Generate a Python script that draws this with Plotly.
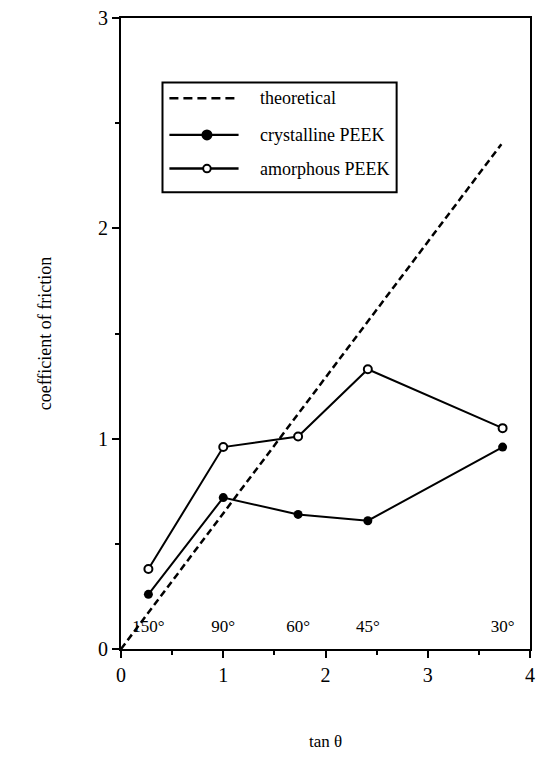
import plotly.graph_objects as go

tan_theta = [0.268, 1.0, 1.732, 2.414, 3.732]
angle_labels = ["150°", "90°", "60°", "45°", "30°"]
crystalline = [0.26, 0.72, 0.64, 0.61, 0.96]
amorphous = [0.38, 0.96, 1.01, 1.33, 1.05]
theory_x = [0.0, 3.72]
theory_y = [0.0, 2.40]
label_y = 0.10
legend_names = ["theoretical", "crystalline PEEK", "amorphous PEEK"]

font = "Liberation Serif"
W, H = 542, 773
L, R, T, B = 121, 7, 12, 124
pw, ph = W - L - R, H - T - B


def px(x):
    return (x - L) / pw


def py(y):
    return (H - B - y) / ph


fig = go.Figure()
fig.add_trace(go.Scatter(x=theory_x, y=theory_y, mode="lines", name=legend_names[0],
                         line=dict(color="black", width=2.5, dash="7px,4px"), showlegend=False))
fig.add_trace(go.Scatter(x=tan_theta, y=crystalline, mode="lines+markers", name=legend_names[1],
                         line=dict(color="black", width=2),
                         marker=dict(symbol="circle", size=9, color="black"), showlegend=False))
fig.add_trace(go.Scatter(x=tan_theta, y=amorphous, mode="lines+markers", name=legend_names[2],
                         line=dict(color="black", width=2),
                         marker=dict(symbol="circle", size=8, color="white",
                                     line=dict(color="black", width=2)), showlegend=False))
fig.add_trace(go.Scatter(x=tan_theta, y=[label_y] * len(tan_theta), mode="text",
                         text=angle_labels, textposition="middle center",
                         textfont=dict(family=font, size=17, color="black"),
                         showlegend=False, hoverinfo="skip"))

# manual legend (box, sample lines, markers, labels)
shapes = [dict(type="rect", xref="paper", yref="paper", x0=px(163), x1=px(400), y0=py(188), y1=py(77),
               line=dict(color="black", width=2), fillcolor="white", layer="above")]
rows = [93, 130, 164]
dashes = ["9px,5px", "solid", "solid"]
annotations = []
for i, (ry, name) in enumerate(zip(rows, legend_names)):
    shapes.append(dict(type="line", xref="paper", yref="paper", x0=px(170), x1=px(240), y0=py(ry), y1=py(ry),
                       line=dict(color="black", width=2.4, dash=dashes[i]), layer="above"))
    annotations.append(dict(xref="paper", yref="paper", x=px(260), y=py(ry), text=name, showarrow=False,
                            xanchor="left", yanchor="middle",
                            font=dict(family=font, size=18, color="black")))
for i, fill in [(1, "black"), (2, "white")]:
    r = 4.5 if i == 1 else 3.8
    shapes.append(dict(type="circle", xref="paper", yref="paper", xsizemode="pixel", ysizemode="pixel",
                       xanchor=px(208), yanchor=py(rows[i]), x0=-r, x1=r, y0=-r, y1=r,
                       fillcolor=fill, line=dict(color="black", width=2), layer="above"))

axis_common = dict(showline=True, linecolor="black", linewidth=2, mirror=True,
                   ticks="outside", ticklen=7, tickwidth=2, tickcolor="black",
                   showgrid=False, zeroline=False,
                   tickfont=dict(family=font, size=20, color="black"),
                   minor=dict(ticks="outside", ticklen=4, tickwidth=1.5, tickcolor="black", dtick=0.5))

fig.update_xaxes(range=[0, 4], dtick=1, **axis_common,
                 title=dict(text="tan θ", font=dict(family=font, size=17, color="black"), standoff=50))
fig.update_yaxes(range=[0, 3], dtick=1, **axis_common,
                 title=dict(text="coefficient of friction", font=dict(family=font, size=18, color="black"), standoff=42))

fig.update_layout(
    width=W, height=H,
    margin=dict(l=L, r=R, t=T, b=B),
    plot_bgcolor="white", paper_bgcolor="white",
    font=dict(family=font, color="black"),
    showlegend=False,
    shapes=shapes, annotations=annotations,
)
fig.write_html("out.html")
